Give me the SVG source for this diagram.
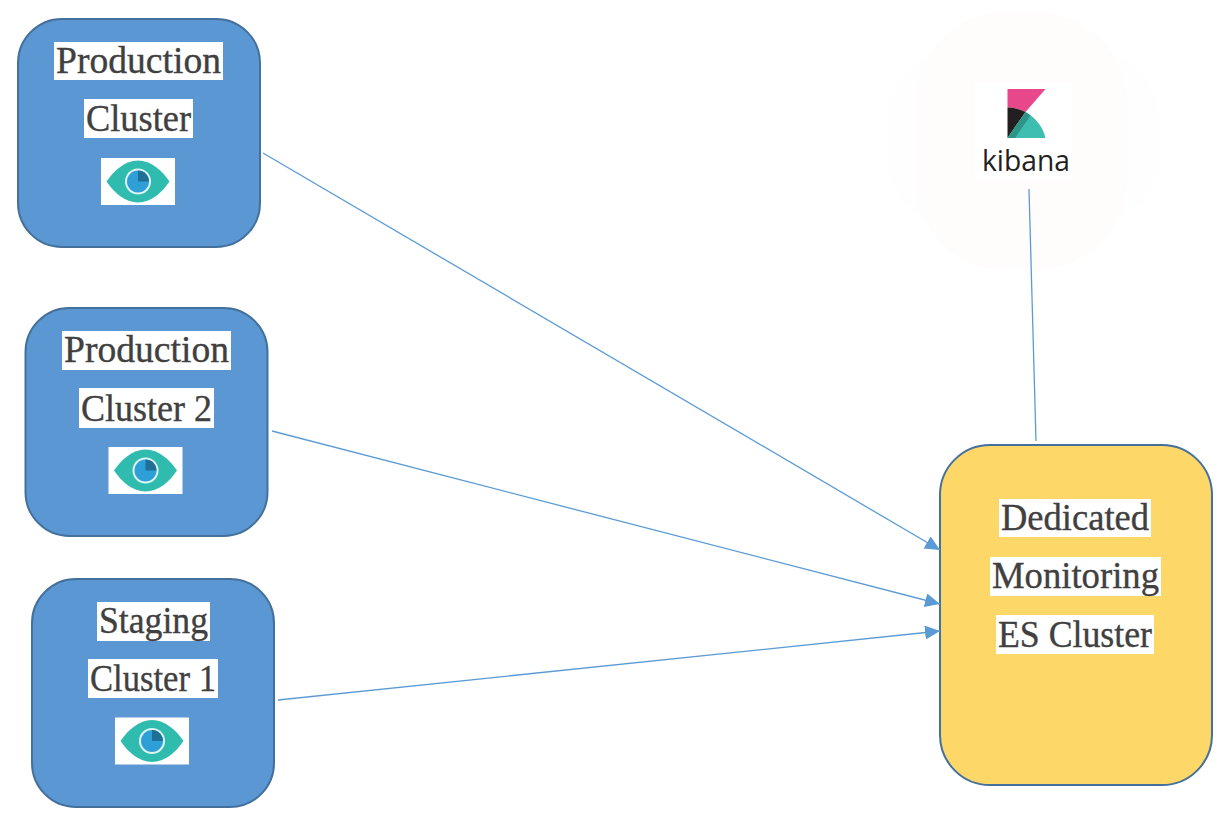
<svg xmlns="http://www.w3.org/2000/svg" width="1231" height="822" viewBox="0 0 1231 822">
<style>
.blue{fill:#5b97d3;stroke:#44709c;stroke-width:2}
.yellow{fill:#fdd768;stroke:#44709c;stroke-width:2}
.bg{fill:#fff}
.t{font-family:"Liberation Serif","DejaVu Serif",serif;font-size:38px;fill:#404040;stroke:#404040;stroke-width:.35}
.c{fill:none;stroke:#5b9bd5;stroke-width:1.3}
</style>
<defs>
<marker id="ah" markerUnits="userSpaceOnUse" markerWidth="16" markerHeight="16" refX="15" refY="7" orient="auto"><path d="M0 0L15 7L0 14Z" fill="#5b9bd5"/></marker>
<g id="eye">
<rect x="-37" y="-23.500" width="74" height="47" fill="#fff"/>
<path d="M-31.500 0C-24 -11 -13 -21 0 -21C13 -21 24 -11 31.500 0C24 11 13 21 0 21C-13 21 -24 11 -31.500 0Z" fill="#2fbcae"/>
<circle r="13" fill="#dff5f2"/>
<circle r="11" fill="#2f9fd8"/>
<path d="M0 0V-11A11 11 0 0 1 11 0Z" fill="#1f6f96"/>
</g>
</defs>
<rect width="1231" height="822" fill="#fff"/>
<g id="production-cluster">
<rect class="blue" x="18" y="19" width="242" height="228" rx="44"/>
<rect class="bg" x="54" y="42" width="169" height="38"/>
<rect class="bg" x="84" y="99" width="109" height="39"/>
<text class="t" x="56" y="72.500" textLength="165" lengthAdjust="spacingAndGlyphs">Production</text>
<text class="t" x="86" y="130.500" textLength="105" lengthAdjust="spacingAndGlyphs">Cluster</text>
<use href="#eye" x="138" y="181.500"/>
</g>
<g id="production-cluster-2">
<rect class="blue" x="25.500" y="308" width="242" height="228" rx="44"/>
<rect class="bg" x="62" y="331" width="169" height="39"/>
<rect class="bg" x="79" y="388" width="135" height="40"/>
<text class="t" x="64" y="361.500" textLength="165" lengthAdjust="spacingAndGlyphs">Production</text>
<text class="t" x="81" y="420.500" textLength="131" lengthAdjust="spacingAndGlyphs">Cluster 2</text>
<use href="#eye" x="145.500" y="470.500"/>
</g>
<g id="staging-cluster-1">
<rect class="blue" x="32" y="579" width="242" height="228" rx="44"/>
<rect class="bg" x="97" y="602" width="113" height="39"/>
<rect class="bg" x="88" y="659" width="130" height="39"/>
<text class="t" x="99" y="632.500" textLength="109" lengthAdjust="spacingAndGlyphs">Staging</text>
<text class="t" x="90" y="690.500" textLength="126" lengthAdjust="spacingAndGlyphs">Cluster 1</text>
<use href="#eye" x="152" y="741"/>
</g>
<g id="monitoring-cluster">
<rect class="yellow" x="940" y="445" width="272" height="340" rx="50"/>
<rect class="bg" x="999" y="499" width="152" height="38"/>
<rect class="bg" x="990" y="557" width="171" height="39"/>
<rect class="bg" x="996" y="615" width="158" height="39"/>
<text class="t" x="1001" y="529.500" textLength="148" lengthAdjust="spacingAndGlyphs">Dedicated</text>
<text class="t" x="992" y="587.500" textLength="167" lengthAdjust="spacingAndGlyphs">Monitoring</text>
<text class="t" x="998" y="646.500" textLength="154" lengthAdjust="spacingAndGlyphs">ES Cluster</text>
</g>
<g id="kibana">
<rect x="887" y="50" width="273" height="175" rx="70" fill="#fffefe"/>
<rect x="915" y="12" width="212" height="258" rx="90" fill="#fffdfc"/>
<rect x="975" y="82" width="97" height="98" fill="#fff"/>
<path d="M1007.500 89H1045.500L1025.500 112C1020 109 1014 107.500 1007.500 107.500Z" fill="#e8478b"/>
<path d="M1007.500 107.500C1014 107.500 1020 109 1025.500 112L1007.500 138Z" fill="#231f20"/>
<path d="M1025.500 112C1036 118 1043 127 1045.500 138H1007.500Z" fill="#3ebeb0"/>
<path d="M1007.500 138L1025.500 112L1030.500 115.500L1015 138Z" fill="#2f9488"/>
<text x="1026" y="171" font-family="Open Sans,Noto Sans,sans-serif" font-size="30" fill="#231f20" text-anchor="middle" textLength="88" lengthAdjust="spacingAndGlyphs">kibana</text>
</g>
<g id="connectors">
<line class="c" x1="263" y1="153" x2="940" y2="550" marker-end="url(#ah)"/>
<line class="c" x1="272" y1="431" x2="940" y2="604" marker-end="url(#ah)"/>
<line class="c" x1="278" y1="700" x2="940" y2="631" marker-end="url(#ah)"/>
<line class="c" x1="1029" y1="189" x2="1036" y2="441"/>
</g>
</svg>
